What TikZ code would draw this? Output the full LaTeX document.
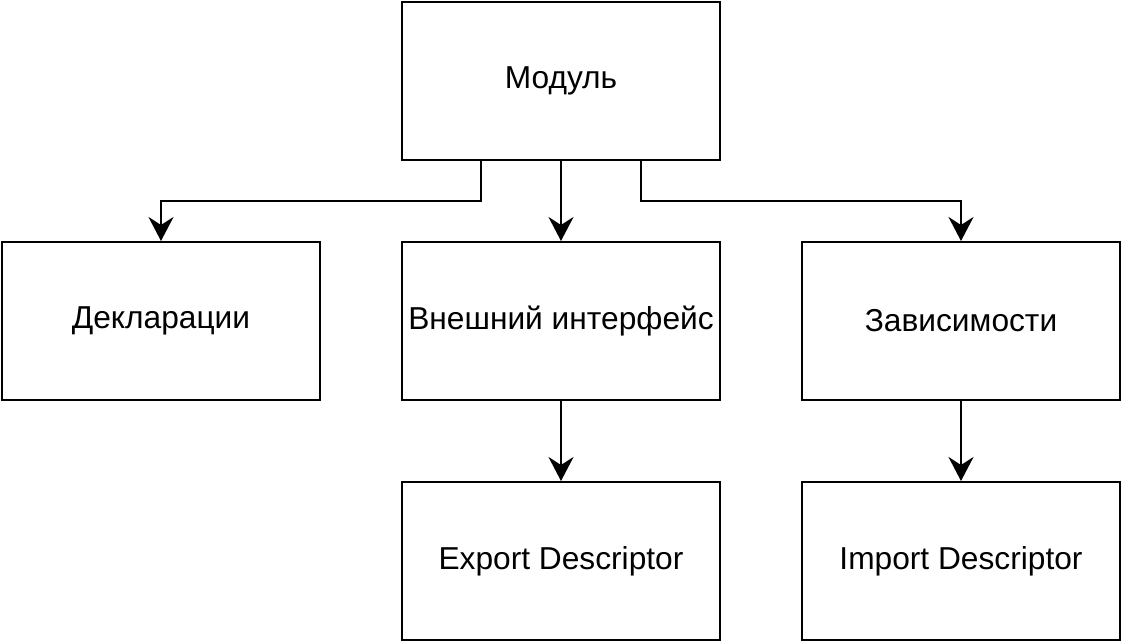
\documentclass[tikz,border=0pt]{standalone}
\usepackage{fontspec}
\setmainfont{Liberation Sans}
\usetikzlibrary{arrows.meta}
\begin{document}
\begin{tikzpicture}[x=1pt,y=-1pt,
  box/.style={draw,line width=2pt,minimum width=318pt,minimum height=158pt,inner sep=0pt,font=\fontsize{31.7}{36}\selectfont},
  conn/.style={line width=2pt,-{Stealth[length=24pt,width=25pt,inset=8pt]}}]
\useasboundingbox (0,0) rectangle (1122,642);
\node[box] (mod) at (561,81) {Модуль};
\node[box] (decl) at (161,321) {Декларации};
\node[box] (ext) at (561,321) {Внешний интерфейс};
\node[box] (dep) at (961,321) {Зависимости};
\node[box] (exp) at (561,561) {Export Descriptor};
\node[box] (imp) at (961,561) {Import Descriptor};
\coordinate (mL) at (481,161);
\coordinate (mR) at (641,161);
\draw[conn] (mL) |- (161,201) -- (decl.north);
\draw[conn] (mod.south) -- (ext.north);
\draw[conn] (mR) |- (961,201) -- (dep.north);
\draw[conn] (ext.south) -- (exp.north);
\draw[conn] (dep.south) -- (imp.north);
\end{tikzpicture}
\end{document}
